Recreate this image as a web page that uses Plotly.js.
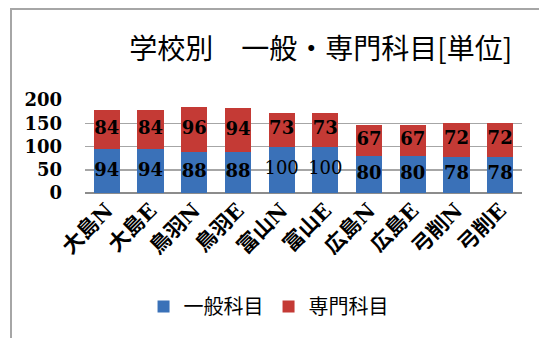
<!DOCTYPE html>
<html><head><meta charset="utf-8">
<script src="https://cdn.plot.ly/plotly-3.0.1.min.js"></script>
<style>
html,body{margin:0;padding:0;background:#fff;}
#frame{position:absolute;left:10px;top:8px;width:540px;height:340px;border-left:2px solid #a6a6a6;border-top:2px solid #a6a6a6;box-sizing:border-box;}
#chart{position:absolute;left:0;top:0;width:539px;height:338px;}
</style>
</head><body>
<div id="chart"></div>
<div id="frame"></div>
<script>
const categories = ["大島N","大島E","鳥羽N","鳥羽E","富山N","富山E","広島N","広島E","弓削N","弓削E"];
const general = [94,94,88,88,100,100,80,80,78,78];
const special = [84,84,96,94,73,73,67,67,72,72];
const yTicks = [0,50,100,150,200];

function numFont(vals){
  return {family:"DejaVu Serif, serif", size:18, color:"#000",
          weight:vals.map(v=>v>=100?"normal":"bold")};
}
const traces = [
  {type:"bar", name:"一般科目", x:categories, y:general,
   marker:{color:"#3a71b8"}, hoverinfo:"none"},
  {type:"bar", name:"専門科目", x:categories, y:special,
   marker:{color:"#c43a35"}, hoverinfo:"none"},
  {type:"scatter", mode:"text", x:categories, y:general.map(v=>v/2), text:general.map(String),
   textposition:"middle center", textfont:numFont(general), showlegend:false, hoverinfo:"none"},
  {type:"scatter", mode:"text", x:categories, y:general.map((v,i)=>v+special[i]/2), text:special.map(String),
   textposition:"middle center", textfont:numFont(special), showlegend:false, hoverinfo:"none"}
];
const layout = {
  width:539, height:338, barmode:"stack", bargap:0.4,
  paper_bgcolor:"#fff", plot_bgcolor:"#fff",
  margin:{l:85, r:17, t:100, b:145},
  title:{text:"学校別　一般・専門科目[単位]", x:0.595, xanchor:"center", y:0.855, yanchor:"middle",
    font:{family:"Noto Sans CJK JP, sans-serif", size:28, color:"#000"}},
  xaxis:{tickangle:-45, showgrid:false, showline:false, ticks:"",
    tickfont:{family:"DejaVu Serif, Noto Sans CJK JP, serif", size:21, color:"#000", weight:"bold"}},
  yaxis:{range:[0,200], tickvals:yTicks, ticktext:yTicks.map(String), showgrid:true,
    gridcolor:"#a6a6a6", gridwidth:1.5, zeroline:true, zerolinecolor:"#8c8c8c", zerolinewidth:2,
    showline:false, ticks:"", ticklabelstandoff:22,
    tickfont:{family:"DejaVu Serif, serif", size:18, color:"#000", weight:"bold"}},
  showlegend:true,
  legend:{orientation:"h", x:0.42, xanchor:"center", y:-1.22, yanchor:"middle",
    font:{family:"Noto Sans CJK JP, sans-serif", size:20, color:"#000"}, itemwidth:30, traceorder:"normal"}
};
Plotly.newPlot("chart", traces, layout, {displayModeBar:false, staticPlot:true});
</script>
</body></html>
